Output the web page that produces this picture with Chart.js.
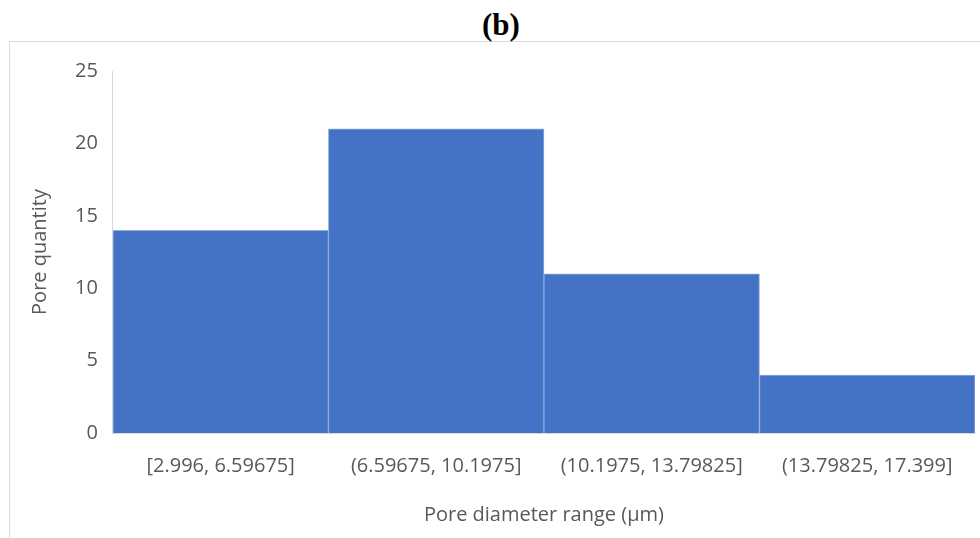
<!DOCTYPE html>
<html>
<head>
<meta charset="utf-8">
<script src="https://cdn.jsdelivr.net/npm/chart.js@4/dist/chart.umd.min.js"></script>
<style>
  html, body { margin: 0; padding: 0; background: #fff; }
  #wrap { position: relative; width: 980px; height: 538px; overflow: hidden; }
  #frame { position: absolute; left: 9px; top: 41px; width: 1000px; height: 600px; border: 1px solid #d9d9d9; }
  #title { position: absolute; left: 401px; width: 200px; top: 6px; text-align: center;
           font: bold 31px "Liberation Serif", serif; line-height: 38px; color: #000; }
  canvas { position: absolute; left: 0; top: 0; }
</style>
</head>
<body>
<div id="wrap">
  <div id="frame"></div>
  <div id="title">(b)</div>
  <canvas id="poreChart" width="980" height="538"></canvas>
</div>
<script>
let ranges = ["[2.996, 6.59675]", "(6.59675, 10.1975]", "(10.1975, 13.79825]", "(13.79825, 17.399]"]
let counts = [14, 21, 11, 4]
let yTicks = [0, 5, 10, 15, 20, 25]

let grayText = "#595959"
let labelFont = { family: "Open Sans", size: 20, lineHeight: 1.2 }

let config = {
    type: "bar",
    data: {
        labels: ranges,
        datasets: [{
            label: "Pore quantity",
            data: counts,
            backgroundColor: "#4472c4",
            borderColor: "#8faadc",
            borderWidth: 1,
            categoryPercentage: 1,
            barPercentage: 1,
        }],
    },
    options: {
        responsive: false,
        animation: false,
        layout: { padding: { top: 71, left: 18, right: 5, bottom: 11 } },
        plugins: {
            legend: { display: false },
            tooltip: { enabled: false },
            title: { display: false },
        },
        scales: {
            x: {
                grid: { display: false, drawTicks: false },
                border: { display: true, color: "#d9d9d9" },
                ticks: { color: grayText, font: labelFont, padding: 21, maxRotation: 0 },
                title: {
                    display: true,
                    text: "Pore diameter range (µm)",
                    color: grayText,
                    font: labelFont,
                    padding: { top: 4, bottom: 0 },
                },
            },
            y: {
                min: yTicks[0],
                max: yTicks[yTicks.length - 1],
                afterBuildTicks: (axis) => { axis.ticks = yTicks.map(v => ({ value: v })) },
                grid: { display: false, drawTicks: false },
                border: { display: true, color: "#d9d9d9" },
                ticks: { color: grayText, font: labelFont, padding: 15 },
                title: {
                    display: true,
                    text: "Pore quantity",
                    color: grayText,
                    font: labelFont,
                    padding: { top: 10, bottom: 8 },
                },
            },
        },
    },
}
let poreChart = new Chart(document.getElementById("poreChart"), config)
</script>
</body>
</html>
